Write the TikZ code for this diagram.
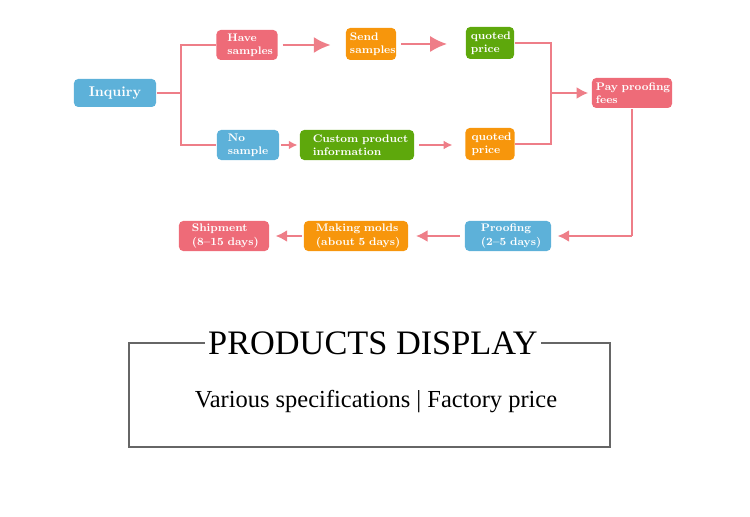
\documentclass[tikz,border=0pt]{standalone}
\usepackage{fontspec}
\usepackage{tikz}
\usetikzlibrary{positioning,arrows.meta}
\newfontfamily\timesfont{Liberation Serif}
\hyphenpenalty=10000
\definecolor{boxred}{HTML}{EE6B78}
\definecolor{boxorange}{HTML}{F7960C}
\definecolor{boxgreen}{HTML}{5EA80C}
\definecolor{boxblue}{HTML}{5DB1D9}
\definecolor{linkred}{HTML}{EE7E88}
\tikzstyle{stage}=[rounded corners=3pt,text=white,font=\fontsize{7.8}{9.4}\selectfont\bfseries,minimum height=0.75cm,inner xsep=0pt,inner ysep=1pt,align=left]
\tikzstyle{link}=[draw=linkred,line width=1.4pt]
\tikzstyle{bigtip}=[-{Latex[length=0.42cm,width=0.4cm]}]
\tikzstyle{midtip}=[-{Latex[length=0.29cm,width=0.3cm]}]
\tikzstyle{smalltip}=[-{Latex[length=0.22cm,width=0.22cm]}]

\begin{document}
\begin{tikzpicture}[x=0.025cm,y=-0.025cm]
\tikzstyle{every path}=[-latex,link]
\path[use as bounding box,draw=none] (0,0) rectangle (750,517);
\node (inq) [stage,fill=boxblue,minimum width=2.05cm,minimum height=0.7cm,align=center,font=\fontsize{10}{12}\selectfont\bfseries] at (115,93) {Inquiry};
\node (have) [stage,fill=boxred,text width=1.525cm] at (247,45) {\hspace*{0.27cm}Have\\\hspace*{0.27cm}samples};
\node (send) [stage,fill=boxorange,text width=1.25cm,minimum height=0.8cm] at (371,44) {\hspace*{0.1cm}Send\\\hspace*{0.1cm}samples};
\node (qp1) [stage,fill=boxgreen,text width=1.2cm,minimum height=0.8cm] at (490,43) {\hspace*{0.12cm}quoted\\\hspace*{0.12cm}price};
\node (pay) [stage,fill=boxred,text width=2cm] at (632,93) {\hspace*{0.1cm}Pay proofing\\\hspace*{0.1cm}fees};
\node (nos) [stage,fill=boxblue,text width=1.55cm] at (248,145) {\hspace*{0.27cm}No\\\hspace*{0.27cm}sample};
\node (cust) [stage,fill=boxgreen,text width=2.85cm] at (357,145) {\hspace*{0.32cm}Custom product\\\hspace*{0.32cm}information};
\node (qp2) [stage,fill=boxorange,text width=1.225cm,minimum height=0.8cm] at (490,144) {\hspace*{0.15cm}quoted\\\hspace*{0.15cm}price};
\node (proof) [stage,fill=boxblue,text width=2.15cm] at (508,236) {\hspace*{0.4cm}Proofing\\\hspace*{0.4cm}(2--5 days)};
\node (molds) [stage,fill=boxorange,text width=2.6cm] at (356,236) {\hspace*{0.3cm}Making molds\\\hspace*{0.3cm}(about 5 days)};
\node (ship) [stage,fill=boxred,text width=2.25cm] at (224,236) {\hspace*{0.32cm}Shipment\\\hspace*{0.32cm}(8--15 days)};

\coordinate (split) at (181,93);
\coordinate (merge) at (551,93);
\coordinate (turn) at (632,236);
\draw[-] (inq.east) -- (split);
\draw[-] (split) |- (have.west);
\draw[-] (split) |- (nos.west);
\draw[bigtip,shorten <=3pt,shorten >=0.36cm] (have.east) -- (have.east -| send.west);
\draw[bigtip,shorten <=3pt,shorten >=0.45cm] (send.east) -- (send.east -| qp1.west);
\draw[smalltip,shorten >=1pt,shorten <=1pt] (nos.east) -- (nos.east -| cust.west);
\draw[smalltip,shorten <=3pt,shorten >=0.3cm] (cust.east) -- (cust.east -| qp2.west);
\draw[-] (qp1.east) -| (merge);
\draw[-] (qp2.east) -| (merge);
\draw[midtip,shorten >=2pt] (merge) -- (pay.west);
\draw[-] (pay.south) -- (turn);
\draw[midtip,shorten >=4pt] (turn) -- (proof.east);
\draw[midtip,shorten <=3pt,shorten >=5pt] (proof.west) -- (molds.east);
\draw[midtip,shorten <=1pt,shorten >=4pt] (molds.west) -- (ship.east);

\draw[-,draw=black!60,line width=0.8pt] (129,343) rectangle (610,447);
\node (title) [fill=white,inner xsep=2pt,inner ysep=0pt,anchor=base,font=\timesfont\fontsize{24.4}{26}\selectfont] at (373,355) {PRODUCTS DISPLAY};
\node (sub) [anchor=base,font=\timesfont\fontsize{17.4}{19}\selectfont] at (376,408) {Various specifications | Factory price};
\end{tikzpicture}
\end{document}
